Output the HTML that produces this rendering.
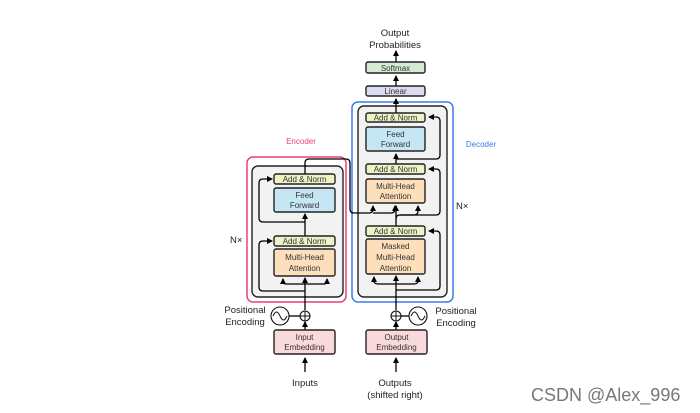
<!DOCTYPE html>
<html><head><style>html,body{margin:0;padding:0;background:#fff}svg{display:block}</style></head><body>
<svg width="700" height="413" viewBox="0 0 700 413" xmlns="http://www.w3.org/2000/svg" font-family="Liberation Sans, sans-serif">
<defs><marker id="a" markerWidth="6" markerHeight="6" refX="5" refY="3" orient="auto" markerUnits="userSpaceOnUse"><path d="M0,0 L6,3 L0,6 z" fill="#000"/></marker></defs>
<rect width="700" height="413" fill="#fff"/>
<text x="301" y="144" font-size="8" fill="#e8407a" text-anchor="middle">Encoder</text>
<rect x="247" y="157" width="99" height="145" rx="6" fill="none" stroke="#e8407a" stroke-width="1.5"/>
<rect x="252" y="166" width="91" height="131" rx="6" fill="#f2f2f2" stroke="#222" stroke-width="1.4"/>
<text x="230" y="243" font-size="9.5" fill="#222">N×</text>
<text x="481" y="147" font-size="8" fill="#3a7cf0" text-anchor="middle">Decoder</text>
<rect x="352" y="102" width="101" height="200" rx="6" fill="none" stroke="#3a7cf0" stroke-width="1.5"/>
<rect x="358" y="106" width="89" height="191" rx="6" fill="#f2f2f2" stroke="#222" stroke-width="1.4"/>
<text x="456" y="209" font-size="9.5" fill="#222">N×</text>
<g stroke="#000" stroke-width="1.3" fill="none">
<line x1="305" y1="372" x2="305" y2="358" marker-end="url(#a)"/>
<line x1="305" y1="330" x2="305" y2="322" marker-end="url(#a)"/>
<line x1="305" y1="310" x2="305" y2="278" marker-end="url(#a)"/>
<path d="M305,291 H263 Q259,291 259,287 V245 Q259,241 263,241 H272" marker-end="url(#a)"/>
<path d="M305,284 H286 Q283,284 283,281 V279" marker-end="url(#a)"/>
<path d="M305,284 H324 Q327,284 327,281 V279" marker-end="url(#a)"/>
<line x1="305" y1="236" x2="305" y2="214" marker-end="url(#a)"/>
<path d="M305,222 H263 Q259,222 259,218 V183 Q259,179 263,179 H272" marker-end="url(#a)"/>
<path d="M305,174 V163 Q305,159 309,159 H346 Q350,159 350,163 V209 Q350,213 354,213 H369 Q373,213 373,209 V206" marker-end="url(#a)"/>
<path d="M373,213 H391 Q395,213 395,209 V206" marker-end="url(#a)"/>
<line x1="396" y1="372" x2="396" y2="358" marker-end="url(#a)"/>
<line x1="396" y1="330" x2="396" y2="322" marker-end="url(#a)"/>
<line x1="396" y1="310" x2="396" y2="276" marker-end="url(#a)"/>
<path d="M396,290 H436 Q440,290 440,286 V235 Q440,231 436,231 H429" marker-end="url(#a)"/>
<path d="M396,284 H378 Q374,284 374,281 V277" marker-end="url(#a)"/>
<path d="M396,284 H414 Q418,284 418,281 V277" marker-end="url(#a)"/>
<path d="M396,226 V219 Q396,215 400,215 H414 Q418,215 418,211 V206" marker-end="url(#a)"/>
<path d="M400,215 H436 Q440,215 440,211 V173 Q440,169 436,169 H429"  marker-end="url(#a)"/>
<line x1="396" y1="219" x2="396" y2="206" marker-end="url(#a)"/>
<line x1="396" y1="164" x2="396" y2="154" marker-end="url(#a)"/>
<path d="M396,159 H436 Q440,159 440,155 V121 Q440,117 436,117 H429" marker-end="url(#a)"/>
<line x1="396" y1="113" x2="396" y2="99" marker-end="url(#a)"/>
<line x1="396" y1="86" x2="396" y2="76" marker-end="url(#a)"/>
<line x1="396" y1="62" x2="396" y2="51" marker-end="url(#a)"/>
<line x1="289" y1="316" x2="300" y2="316"/>
<line x1="401" y1="316" x2="409" y2="316"/>
</g>
<g stroke="#222" stroke-width="1.4">
<rect x="274" y="174" width="61" height="10" rx="2" fill="#eef3c6"/>
<rect x="274" y="188" width="61" height="24" rx="2" fill="#c5e7f5"/>
<rect x="274" y="236" width="61" height="10" rx="2" fill="#eef3c6"/>
<rect x="274" y="249" width="61" height="27" rx="2" fill="#fde0bb"/>
<rect x="366" y="113" width="59" height="9" rx="2" fill="#eef3c6"/>
<rect x="366" y="127" width="59" height="24" rx="2" fill="#c5e7f5"/>
<rect x="366" y="164" width="59" height="10" rx="2" fill="#eef3c6"/>
<rect x="366" y="179" width="59" height="24" rx="2" fill="#fde0bb"/>
<rect x="366" y="226" width="59" height="10" rx="2" fill="#eef3c6"/>
<rect x="366" y="239" width="59" height="35" rx="2" fill="#fde0bb"/>
<rect x="366" y="86" width="59" height="10" rx="2" fill="#dcdcf0"/>
<rect x="366" y="62" width="59" height="11" rx="2" fill="#d3ecd3"/>
<rect x="274" y="330" width="61" height="24" rx="2" fill="#f9d9dc"/>
<rect x="366" y="330" width="61" height="24" rx="2" fill="#f9d9dc"/>
</g>
<g stroke="#111" stroke-width="1.1" fill="#fff">
<circle cx="305" cy="316" r="5"/><circle cx="396" cy="316" r="5"/>
<circle cx="280" cy="316" r="9"/><circle cx="418" cy="316" r="9"/>
</g>
<g stroke="#111" stroke-width="1" fill="none">
<path d="M300,316 H310 M305,311 V321 M391,316 H401 M396,311 V321"/>
<path d="M273,316 Q276.5,308 280,316 T287,316"/>
<path d="M411,316 Q414.5,308 418,316 T425,316"/>
</g>
<g font-size="8" fill="#333" text-anchor="middle">
<text x="304.5" y="182">Add &amp; Norm</text>
<text x="304.5" y="198">Feed</text><text x="304.5" y="208">Forward</text>
<text x="304.5" y="244">Add &amp; Norm</text>
<text x="304.5" y="260">Multi-Head</text><text x="304.5" y="271">Attention</text>
<text x="395.5" y="120.5">Add &amp; Norm</text>
<text x="395.5" y="137">Feed</text><text x="395.5" y="147">Forward</text>
<text x="395.5" y="172">Add &amp; Norm</text>
<text x="395.5" y="189">Multi-Head</text><text x="395.5" y="199">Attention</text>
<text x="395.5" y="234">Add &amp; Norm</text>
<text x="395.5" y="249">Masked</text><text x="395.5" y="260">Multi-Head</text><text x="395.5" y="271">Attention</text>
<text x="395.5" y="94">Linear</text>
<text x="395.5" y="71">Softmax</text>
<text x="304.5" y="340">Input</text><text x="304.5" y="350">Embedding</text>
<text x="396.5" y="340">Output</text><text x="396.5" y="350">Embedding</text>
</g>
<g font-size="9.5" fill="#222" text-anchor="middle">
<text x="395" y="36">Output</text><text x="395" y="48">Probabilities</text>
<text x="305" y="386">Inputs</text>
<text x="395" y="386">Outputs</text><text x="395" y="398">(shifted right)</text>
<text x="245" y="313">Positional</text><text x="245" y="325">Encoding</text>
<text x="456" y="314">Positional</text><text x="456" y="326">Encoding</text>
</g>
<text x="531" y="401" font-size="18" fill="#777">CSDN @Alex_996</text>
</svg>
</body></html>
